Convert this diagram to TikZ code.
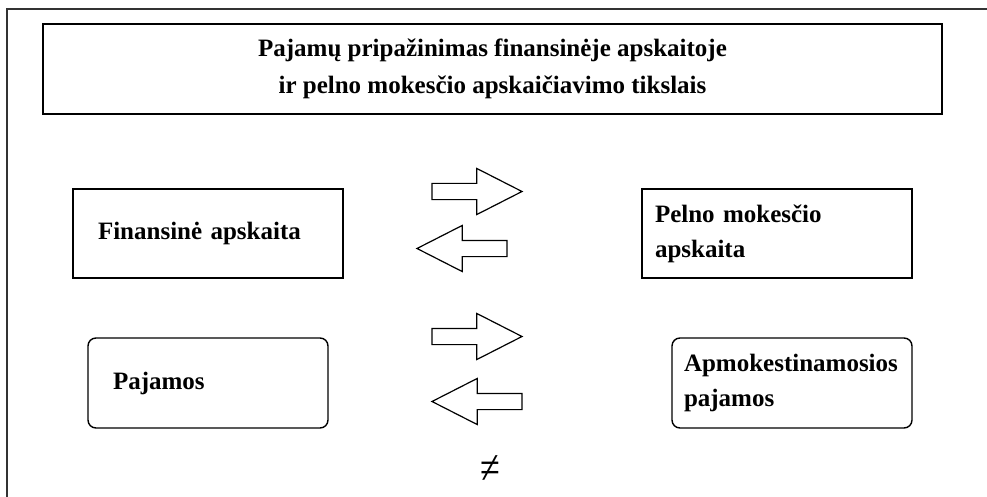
\documentclass[tikz,border=0pt]{standalone}
\usepackage{fontspec}
\setmainfont{Liberation Serif}
\usetikzlibrary{shapes,arrows}
\tikzstyle{block} = [draw, line width=1.4pt, rectangle, inner ysep=0pt, align=left, font=\fontsize{25}{35}\selectfont\bfseries]
\tikzstyle{rblock} = [block, rounded corners=8pt]
\tikzstyle{bigarrow} = [draw, line width=1.2pt, single arrow, minimum height=90pt, single arrow head extend=15pt, single arrow tip angle=54, inner xsep=0pt, inner ysep=7.5pt, outer sep=0pt]
\tikzstyle{frame} = [draw=black!80, line width=1.1pt]

\begin{document}
\begin{tikzpicture}[x=1pt, y=-1pt]
 \useasboundingbox (0,0) rectangle (987,497);
 \draw [frame] (7,497) |- (987,9);
 % nodes
    \node [block, align=center, minimum width=899pt, minimum height=90pt, font=\fontsize{25}{37}\selectfont\bfseries, name=title] at (492.5,69) {Pajamų pripažinimas finansinėje apskaitoje\\ir pelno mokesčio apskaičiavimo tikslais};
    \node [block, minimum height=89pt, text width=220pt, inner xsep=25pt, name=finans] at (208,233.5) {Finansinė apskaita};
    \node [block, minimum height=89pt, text width=244pt, inner xsep=13pt, name=pelno] at (777,233.5) {Pelno mokesčio\\apskaita};
    \node [rblock, minimum height=90pt, text width=190pt, inner xsep=25pt, name=pajamos] at (208,383) {Pajamos};
    \node [rblock, minimum height=90pt, text width=216pt, inner xsep=12pt, name=apmok] at (792,383) {Apmokestinamosios\\pajamos};
    % arrows
    \node [bigarrow, anchor=tail, name=arrow1] at (432,191.5) {};
    \node [bigarrow, anchor=tail, shape border rotate=180, name=arrow2] at (507,248.5) {};
    \node [bigarrow, anchor=tail, name=arrow3] at (432,336.5) {};
    \node [bigarrow, anchor=tail, shape border rotate=180, name=arrow4] at (522,401.5) {};
    \node [name=neq, inner sep=0pt, font=\fontsize{36}{36}\selectfont] at (490,470) {\scalebox{1}[1.3]{≠}};
\end{tikzpicture}
\end{document}
